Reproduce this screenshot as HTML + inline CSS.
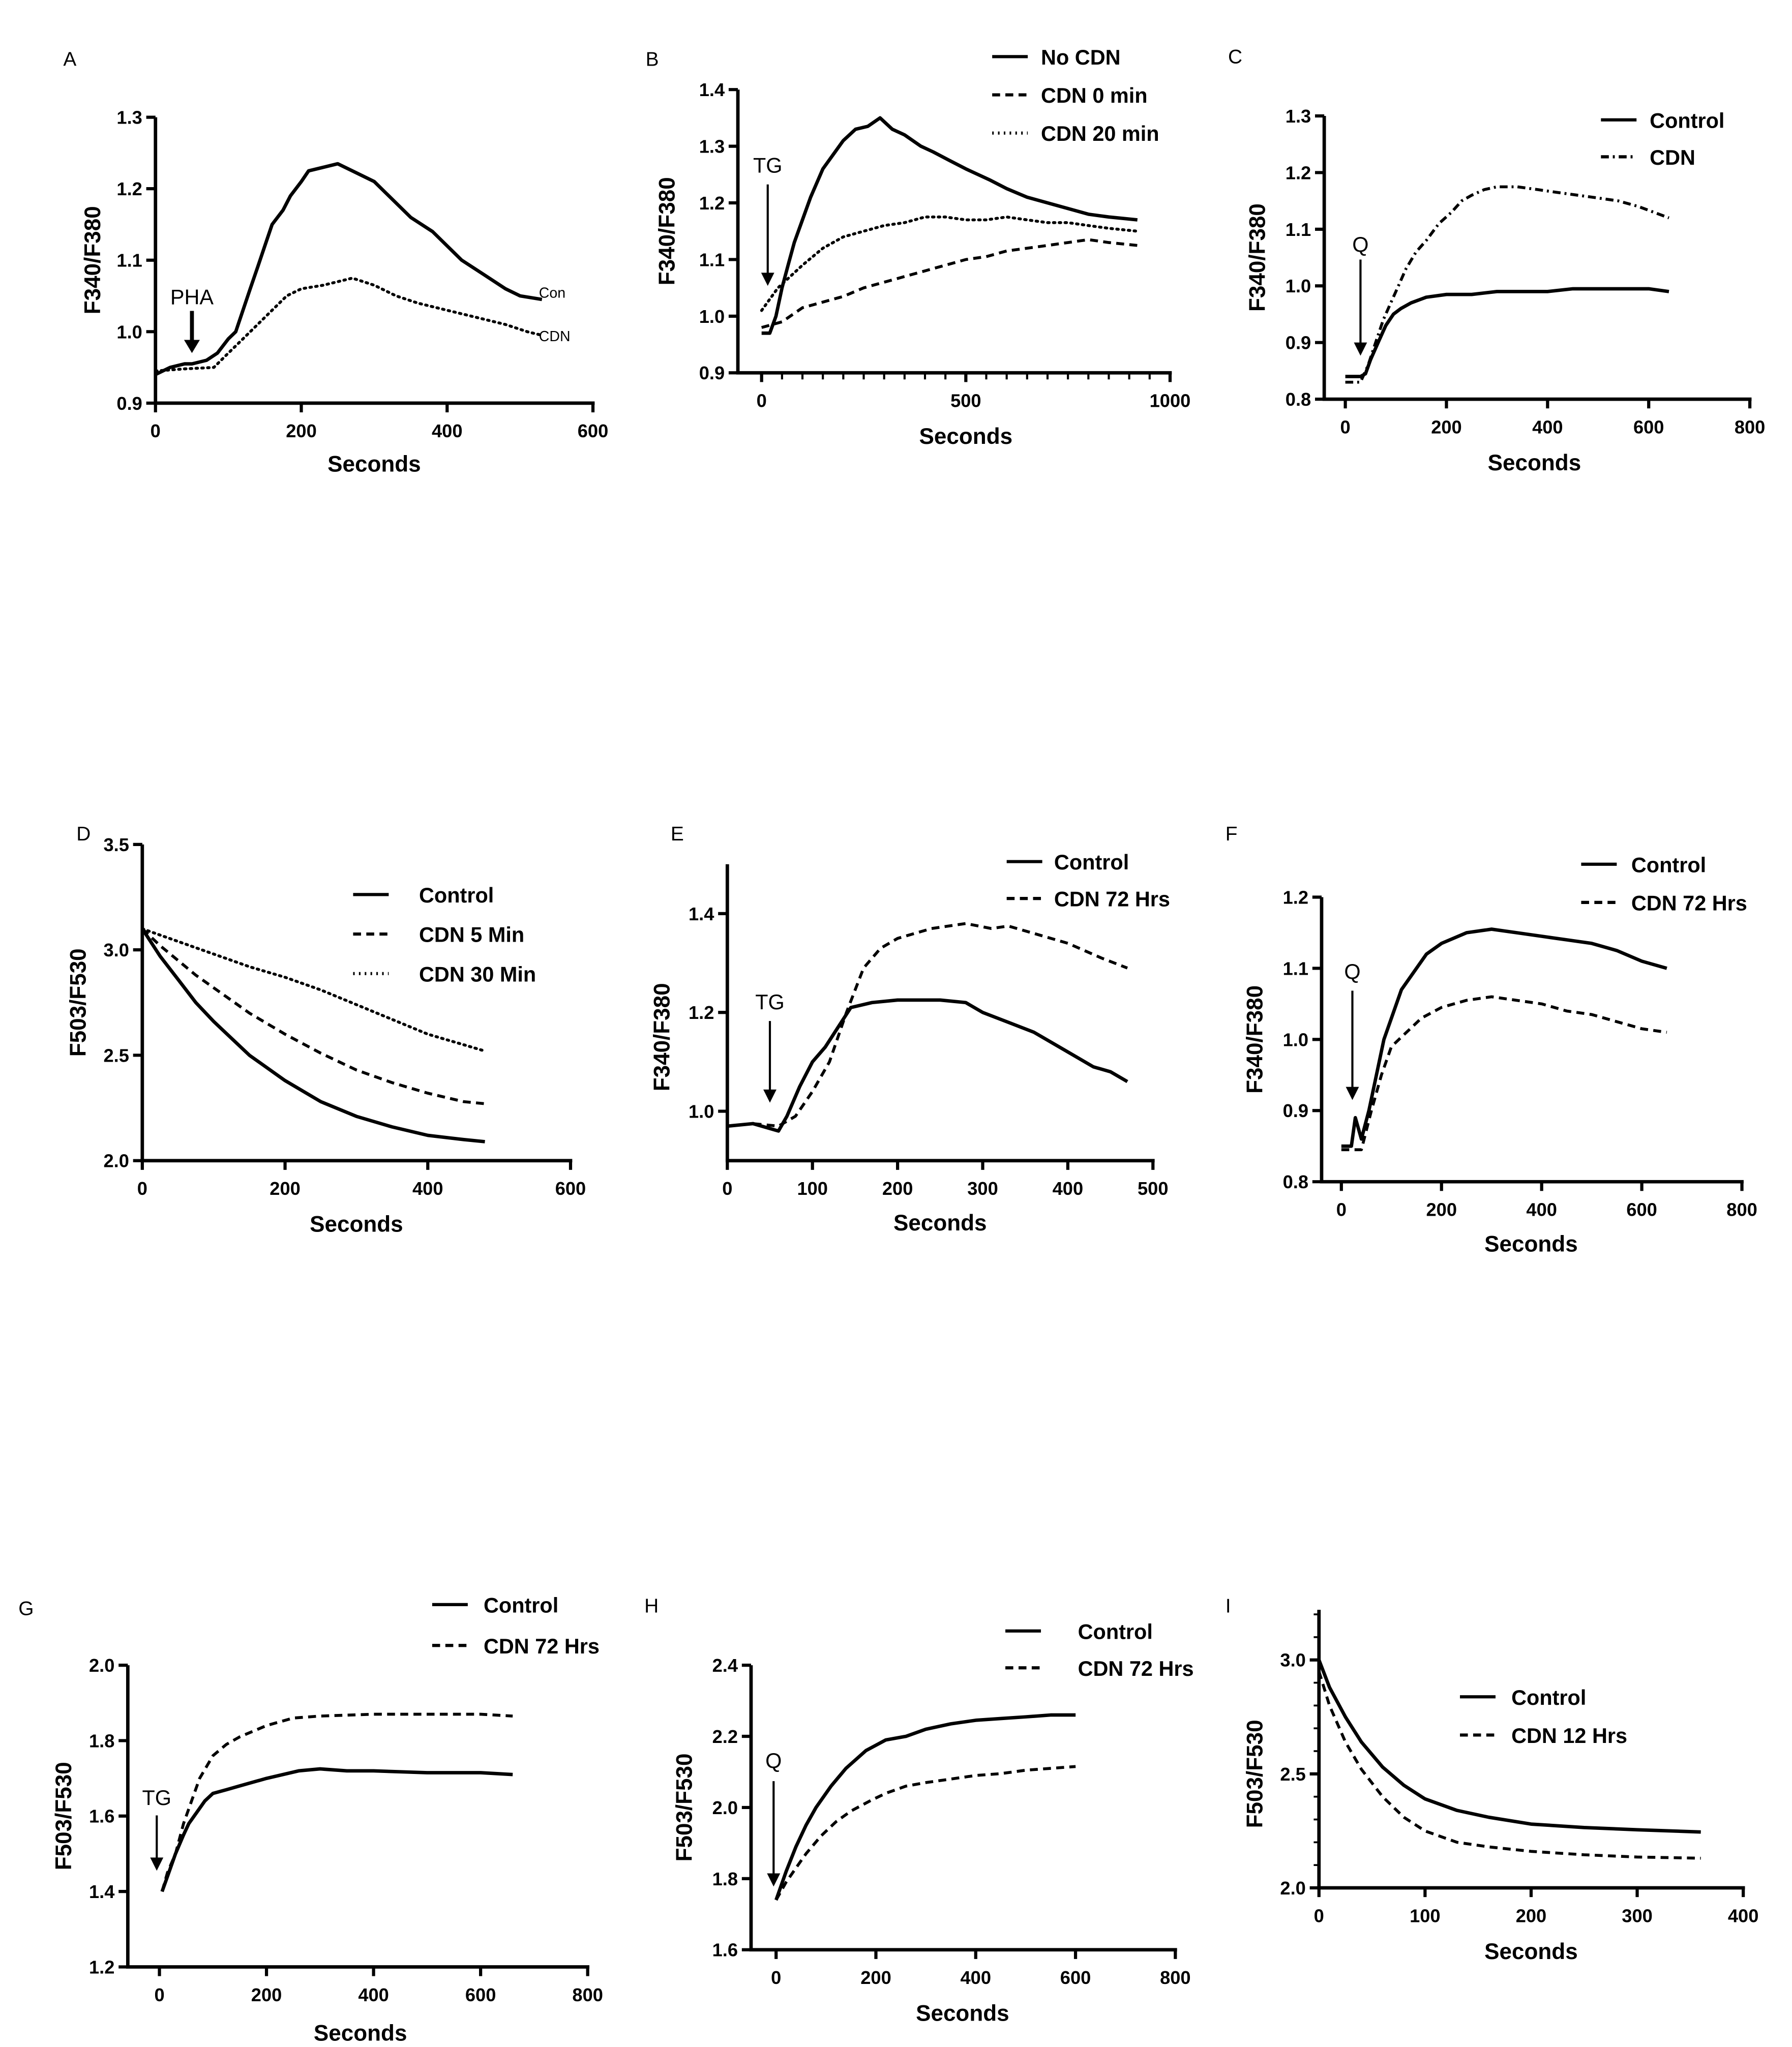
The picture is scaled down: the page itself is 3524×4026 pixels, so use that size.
<!DOCTYPE html>
<html><head><meta charset="utf-8">
<style>
html,body{margin:0;padding:0;background:#fff;}
svg{display:block;}
text{font-family:"Liberation Sans",Arial,sans-serif;fill:#000;}
</style></head>
<body>
<svg id="fig" xmlns="http://www.w3.org/2000/svg" width="3524" height="4026" viewBox="0 0 1360 1553.8" preserveAspectRatio="none"></svg>
<script>
// ---------- Data ----------
// Panel A
const aConT=[0,20,40,50,70,85,100,110,120,130,140,150,160,175,185,200,210,230,250,270,300,330,350,380,400,420,450,480,500,530];
const aConV=[0.94,0.95,0.955,0.955,0.96,0.97,0.99,1.0,1.03,1.06,1.09,1.12,1.15,1.17,1.19,1.21,1.225,1.23,1.235,1.225,1.21,1.18,1.16,1.14,1.12,1.10,1.08,1.06,1.05,1.045];
const aCdnT=[0,40,80,100,120,140,160,180,200,230,270,300,330,360,400,440,480,510,530];
const aCdnV=[0.945,0.948,0.95,0.97,0.99,1.01,1.03,1.05,1.06,1.065,1.075,1.065,1.05,1.04,1.03,1.02,1.01,1.0,0.995];
const aXTicks=[0,200,400,600];
const aYTicks=[0.9,1.0,1.1,1.2,1.3];
// Panel B
const bNoT=[0,20,35,50,65,80,100,120,150,180,200,230,260,290,320,350,390,420,460,500,560,600,650,700,750,800,850,920];
const bNoV=[0.97,0.97,1.0,1.05,1.09,1.13,1.17,1.21,1.26,1.29,1.31,1.33,1.335,1.35,1.33,1.32,1.30,1.29,1.275,1.26,1.24,1.225,1.21,1.2,1.19,1.18,1.175,1.17];
const b0T=[0,50,100,150,200,250,300,350,400,450,500,550,600,650,700,750,800,850,920];
const b0V=[0.98,0.99,1.015,1.025,1.035,1.05,1.06,1.07,1.08,1.09,1.1,1.105,1.115,1.12,1.125,1.13,1.135,1.13,1.125];
const b20T=[0,20,40,70,100,150,200,250,300,350,400,450,500,550,600,650,700,750,800,850,920];
const b20V=[1.01,1.03,1.05,1.07,1.09,1.12,1.14,1.15,1.16,1.165,1.175,1.175,1.17,1.17,1.175,1.17,1.165,1.165,1.16,1.155,1.15];
const bXTicks=[0,500,1000];
const bYTicks=[0.9,1.0,1.1,1.2,1.3,1.4];
// Panel C
const cCtlT=[0,30,40,50,65,80,95,110,130,160,200,250,300,350,400,450,500,550,600,640];
const cCtlV=[0.84,0.84,0.845,0.87,0.9,0.93,0.95,0.96,0.97,0.98,0.985,0.985,0.99,0.99,0.99,0.995,0.995,0.995,0.995,0.99];
const cCdnT=[0,30,45,60,75,90,105,120,140,160,185,210,230,250,275,300,340,380,420,460,500,540,580,610,640];
const cCdnV=[0.83,0.83,0.86,0.9,0.94,0.97,1.0,1.03,1.06,1.08,1.11,1.13,1.15,1.16,1.17,1.175,1.175,1.17,1.165,1.16,1.155,1.15,1.14,1.13,1.12];
const cXTicks=[0,200,400,600,800];
const cYTicks=[0.8,0.9,1.0,1.1,1.2,1.3];
// Panel D
const dCtlT=[0,25,50,75,100,150,200,250,300,350,400,450,480];
const dCtlV=[3.1,2.97,2.86,2.75,2.66,2.5,2.38,2.28,2.21,2.16,2.12,2.1,2.09];
const d5T=[0,25,50,75,100,150,200,250,300,350,400,450,480];
const d5V=[3.1,3.02,2.95,2.88,2.82,2.7,2.6,2.51,2.43,2.37,2.32,2.28,2.27];
const d30T=[0,50,100,150,200,250,300,350,400,450,480];
const d30V=[3.1,3.04,2.98,2.92,2.87,2.81,2.74,2.67,2.6,2.55,2.52];
const dXTicks=[0,200,400,600];
const dYTicks=[2.0,2.5,3.0,3.5];
// Panel E
const eCtlT=[0,30,60,70,85,100,115,130,145,170,200,250,280,300,330,360,400,430,450,470];
const eCtlV=[0.97,0.975,0.96,0.99,1.05,1.1,1.13,1.17,1.21,1.22,1.225,1.225,1.22,1.2,1.18,1.16,1.12,1.09,1.08,1.06];
const eCdnT=[0,30,60,80,100,120,140,160,180,200,240,280,310,330,360,400,440,470];
const eCdnV=[0.97,0.975,0.97,0.99,1.04,1.1,1.2,1.29,1.33,1.35,1.37,1.38,1.37,1.375,1.36,1.34,1.31,1.29];
const eXTicks=[0,100,200,300,400,500];
const eYTicks=[1.0,1.2,1.4];
// Panel F
const fCtlT=[0,20,28,40,55,70,85,100,120,140,170,200,250,300,350,400,450,500,550,600,650];
const fCtlV=[0.85,0.85,0.89,0.86,0.9,0.95,1.0,1.03,1.07,1.09,1.12,1.135,1.15,1.155,1.15,1.145,1.14,1.135,1.125,1.11,1.1];
const fCdnT=[0,40,60,80,100,130,160,200,250,300,350,400,450,500,550,600,650];
const fCdnV=[0.845,0.845,0.9,0.95,0.99,1.01,1.03,1.045,1.055,1.06,1.055,1.05,1.04,1.035,1.025,1.015,1.01];
const fXTicks=[0,200,400,600,800];
const fYTicks=[0.8,0.9,1.0,1.1,1.2];
// Panel G
const gCtlT=[5,15,30,45,55,70,85,100,125,150,200,260,300,350,400,500,600,660];
const gCtlV=[1.40,1.44,1.5,1.55,1.58,1.61,1.64,1.66,1.67,1.68,1.70,1.72,1.725,1.72,1.72,1.715,1.715,1.71];
const gCdnT=[5,15,30,45,60,75,100,125,150,200,250,300,400,500,600,660];
const gCdnV=[1.40,1.45,1.5,1.58,1.64,1.7,1.76,1.79,1.81,1.84,1.86,1.865,1.87,1.87,1.87,1.865];
const gXTicks=[0,200,400,600,800];
const gYTicks=[1.2,1.4,1.6,1.8,2.0];
// Panel H
const hCtlT=[0,20,40,60,80,110,140,180,220,260,300,350,400,450,500,550,600];
const hCtlV=[1.74,1.82,1.89,1.95,2.0,2.06,2.11,2.16,2.19,2.2,2.22,2.235,2.245,2.25,2.255,2.26,2.26];
const hCdnT=[0,20,40,60,90,120,150,190,220,260,300,350,400,450,500,550,600];
const hCdnV=[1.74,1.79,1.83,1.87,1.92,1.96,1.99,2.02,2.04,2.06,2.07,2.08,2.09,2.095,2.105,2.11,2.115];
const hXTicks=[0,200,400,600,800];
const hYTicks=[1.6,1.8,2.0,2.2,2.4];
// Panel I
const iCtlT=[0,10,25,40,60,80,100,130,160,200,250,300,360];
const iCtlV=[3.0,2.88,2.75,2.64,2.53,2.45,2.39,2.34,2.31,2.28,2.265,2.255,2.245];
const iCdnT=[0,10,25,40,60,80,100,130,160,200,250,300,360];
const iCdnV=[2.95,2.8,2.64,2.52,2.4,2.31,2.25,2.2,2.18,2.16,2.145,2.135,2.13];
const iXTicks=[0,100,200,300,400];
const iYTicks=[2.0,2.5,3.0];

// ---------- Helpers ----------
const NS="http://www.w3.org/2000/svg";
const svg=document.getElementById('fig');
function mk(tag,attrs,parent){const e=document.createElementNS(NS,tag);for(const k in attrs)e.setAttribute(k,attrs[k]);(parent||svg).appendChild(e);return e;}
function txt(s,x,y,size,weight,anchor,parent){const t=mk('text',{x:x,y:y,'font-size':size,'font-weight':weight,'text-anchor':anchor||'middle'},parent);t.textContent=s;return t;}
const dashes={solid:null,dash:'6 4',dot:'1.2 3.2',dashdot:'6 3 1.5 3'};

function panel(p){
  const g=mk('g',{});
  
  
  const sx=v=>p.px0+(v-p.xmin)/(p.xmax-p.xmin)*(p.px1-p.px0);
  const sy=v=>p.py0+(v-p.ymin)/(p.ymax-p.ymin)*(p.py1-p.py0);
  const lab=txt(p.id,p.lx,p.ly,15,'normal','start',g);
  
  
  const yTop=sy(Math.max(p.ytop,p.yticks[p.yticks.length-1]));
  const yTickTop=sy(p.yticks[p.yticks.length-1]);
  const xRight=sx(p.xticks[p.xticks.length-1]);
  const ya=mk('line',{x1:p.yax,y1:p.py0,x2:p.yax,y2:yTop,stroke:'#000','stroke-width':2.6},g);
  
  
  const xa=mk('line',{x1:p.yax-1.3,y1:p.py0,x2:xRight+1.3,y2:p.py0,stroke:'#000','stroke-width':2.6},g);
  
  
  p.xticks.forEach(v=>{
    const x=sx(v);
    const tk=mk('line',{x1:x,y1:p.py0,x2:x,y2:p.py0+7,stroke:'#000','stroke-width':2.4},g);
    
    
    const tl=txt(String(v),x,p.py0+26,14,'bold','middle',g);
    
    
  });
  if(p.xminor){for(let v=p.xminor;v<p.xticks[p.xticks.length-1];v+=p.xminor){
    const x=sx(v);
    const mt=mk('line',{x1:x,y1:p.py0,x2:x,y2:p.py0+5,stroke:'#000','stroke-width':1.6},g);
    
    
  }}
  if(p.yminor){for(let v=p.yticks[0]+p.yminor;v<p.ytop;v+=p.yminor){
    const y=sy(v);
    const mt=mk('line',{x1:p.yax,y1:y,x2:p.yax-4,y2:y,stroke:'#000','stroke-width':1.4},g);
    
    
  }}
  p.yticks.forEach(v=>{
    const y=sy(v);
    const tk=mk('line',{x1:p.yax,y1:y,x2:p.yax-7,y2:y,stroke:'#000','stroke-width':2.4},g);
    
    
    const tl=txt(v.toFixed(1),p.yax-10,y+5,14,'bold','end',g);
    
    
  });
  const xt=txt('Seconds',(p.px0+xRight)/2+p.xtOff,p.py0+p.xtDy,17,'bold','middle',g);
  
  
  const cy=(p.py0+yTickTop)/2;
  const yt=txt(p.ytitle,0,0,17,'bold','middle',g);
  yt.setAttribute('transform','translate('+p.ytx+','+cy+') rotate(-90)');
  
  
  p.series.forEach(s=>{
    const pts=s.t.map((t,i)=>sx(t).toFixed(1)+','+sy(s.v[i]).toFixed(1)).join(' ');
    const pl=mk('polyline',{points:pts,fill:'none',stroke:'#000','stroke-width':s.style==='solid'?2.6:2.2,'stroke-linejoin':'round','stroke-linecap':s.style==='dot'?'round':'butt'},g);
    if(dashes[s.style])pl.setAttribute('stroke-dasharray',dashes[s.style]);
    
    
  });
  (p.legend||[]).forEach((L,i)=>{
    const y=p.legY+i*p.legDy;
    const ll=mk('line',{x1:p.legX,y1:y,x2:p.legX+27,y2:y,stroke:'#000','stroke-width':2.4},g);
    if(dashes[L.style])ll.setAttribute('stroke-dasharray',dashes[L.style]);
    
    
    const lt=txt(L.label,p.legX+p.legTx,y+6,16,'bold','start',g);
    
    
  });
  (p.inline||[]).forEach(L=>{
    const lt=txt(L.label,L.x,L.y,11,'normal','start',g);
    
    
  });
  if(p.arrow){
    const a=p.arrow, x=sx(a.t);
    const at=txt(a.label,x+(a.dx||0),a.ty,16,a.bold?'bold':'normal','middle',g);
    
    
    const al=mk('line',{x1:x,y1:a.y1,x2:x,y2:a.y2-8,stroke:'#000','stroke-width':a.w||1.6},g);
    
    
    const hw=a.hw||5;
    const ah=mk('polygon',{points:(x-hw)+','+(a.y2-10)+' '+(x+hw)+','+(a.y2-10)+' '+x+','+a.y2,fill:'#000'},g);
    
    
  }
}

panel({id:'A',lx:48,ly:50,yax:118,px0:118,px1:450,xmin:0,xmax:600,py0:306,py1:89,ymin:0.9,ymax:1.3,ytop:1.3,
  xticks:aXTicks,yticks:aYTicks,ytitle:'F340/F380',ytx:76,xtOff:0,xtDy:52,
  series:[{t:aConT,v:aConV,style:'solid',name:'con-line'},{t:aCdnT,v:aCdnV,style:'dot',name:'cdn-line'}],
  inline:[{label:'Con',x:409,y:226},{label:'CDN',x:409,y:259}],
  arrow:{t:50,label:'PHA',ty:231,y1:236,y2:268,w:3,hw:6,bold:false}});

panel({id:'B',lx:490,ly:50,yax:560,px0:578,px1:888,xmin:0,xmax:1000,py0:283,py1:68,ymin:0.9,ymax:1.4,ytop:1.4,
  xticks:bXTicks,yticks:bYTicks,xminor:50,ytitle:'F340/F380',ytx:512,xtOff:0,xtDy:54,
  series:[{t:bNoT,v:bNoV,style:'solid',name:'no-cdn-line'},{t:b0T,v:b0V,style:'dash',name:'cdn-0-min-line'},{t:b20T,v:b20V,style:'dot',name:'cdn-20-min-line'}],
  legend:[{label:'No  CDN',style:'solid'},{label:'CDN 0 min',style:'dash'},{label:'CDN 20 min',style:'dot'}],legX:753,legY:43,legDy:29,legTx:37,
  arrow:{t:15,label:'TG',ty:131,y1:140,y2:217}});

panel({id:'C',lx:932,ly:48,yax:1005,px0:1021,px1:1328,xmin:0,xmax:800,py0:303,py1:88,ymin:0.8,ymax:1.3,ytop:1.3,
  xticks:cXTicks,yticks:cYTicks,ytitle:'F340/F380',ytx:960,xtOff:-10,xtDy:54,
  series:[{t:cCtlT,v:cCtlV,style:'solid',name:'control-line'},{t:cCdnT,v:cCdnV,style:'dashdot',name:'cdn-line'}],
  legend:[{label:'Control',style:'solid'},{label:'CDN',style:'dashdot'}],legX:1215,legY:91,legDy:28,legTx:37,
  arrow:{t:30,label:'Q',ty:191,y1:197,y2:270}});

panel({id:'D',lx:58,ly:638,yax:108,px0:108,px1:433,xmin:0,xmax:600,py0:881,py1:641,ymin:2.0,ymax:3.5,ytop:3.5,
  xticks:dXTicks,yticks:dYTicks,ytitle:'F503/F530',ytx:65,xtOff:0,xtDy:54,
  series:[{t:dCtlT,v:dCtlV,style:'solid',name:'control-line'},{t:d5T,v:d5V,style:'dash',name:'cdn-5-min-line'},{t:d30T,v:d30V,style:'dot',name:'cdn-30-min-line'}],
  legend:[{label:'Control',style:'solid'},{label:'CDN 5 Min',style:'dash'},{label:'CDN 30 Min',style:'dot'}],legX:268,legY:679,legDy:30,legTx:50});

panel({id:'E',lx:509,ly:638,yax:552,px0:552,px1:875,xmin:0,xmax:500,py0:881,py1:656,ymin:0.9,ymax:1.5,ytop:1.5,
  xticks:eXTicks,yticks:eYTicks,ytitle:'F340/F380',ytx:508,xtOff:0,xtDy:53,
  series:[{t:eCtlT,v:eCtlV,style:'solid',name:'control-line'},{t:eCdnT,v:eCdnV,style:'dash',name:'cdn-72-hrs-line'}],
  legend:[{label:'Control',style:'solid'},{label:'CDN 72 Hrs',style:'dash'}],legX:764,legY:654,legDy:28,legTx:36,
  arrow:{t:50,label:'TG',ty:766,y1:775,y2:837}});

panel({id:'F',lx:930,ly:638,yax:1003,px0:1018,px1:1322,xmin:0,xmax:800,py0:897,py1:681,ymin:0.8,ymax:1.2,ytop:1.2,
  xticks:fXTicks,yticks:fYTicks,ytitle:'F340/F380',ytx:958,xtOff:-8,xtDy:53,
  series:[{t:fCtlT,v:fCtlV,style:'solid',name:'control-line'},{t:fCdnT,v:fCdnV,style:'dash',name:'cdn-72-hrs-line'}],
  legend:[{label:'Control',style:'solid'},{label:'CDN 72  Hrs',style:'dash'}],legX:1200,legY:656,legDy:29,legTx:38,
  arrow:{t:22,label:'Q',ty:743,y1:752,y2:835}});

panel({id:'G',lx:14,ly:1226,yax:97,px0:121,px1:446,xmin:0,xmax:800,py0:1493,py1:1264,ymin:1.2,ymax:2.0,ytop:2.0,
  xticks:gXTicks,yticks:gYTicks,ytitle:'F503/F530',ytx:54,xtOff:-10,xtDy:56,
  series:[{t:gCtlT,v:gCtlV,style:'solid',name:'control-line'},{t:gCdnT,v:gCdnV,style:'dash',name:'cdn-72-hrs-line'}],
  legend:[{label:'Control',style:'solid'},{label:'CDN 72 Hrs',style:'dash'}],legX:328,legY:1218,legDy:31,legTx:39,
  arrow:{t:-5,label:'TG',ty:1370,y1:1378,y2:1420}});

panel({id:'H',lx:489,ly:1224,yax:570,px0:589,px1:892,xmin:0,xmax:800,py0:1480,py1:1264,ymin:1.6,ymax:2.4,ytop:2.4,
  xticks:hXTicks,yticks:hYTicks,ytitle:'F503/F530',ytx:525,xtOff:-10,xtDy:54,
  series:[{t:hCtlT,v:hCtlV,style:'solid',name:'control-line'},{t:hCdnT,v:hCdnV,style:'dash',name:'cdn-72-hrs-line'}],
  legend:[{label:'Control',style:'solid'},{label:'CDN 72 Hrs',style:'dash'}],legX:763,legY:1238,legDy:28,legTx:55,
  arrow:{t:-5,label:'Q',ty:1342,y1:1352,y2:1432}});

panel({id:'I',lx:930,ly:1224,yax:1001,px0:1001,px1:1323,xmin:0,xmax:400,py0:1433,py1:1260,ymin:2.0,ymax:3.0,ytop:3.22,yminor:0.1,
  xticks:iXTicks,yticks:iYTicks,ytitle:'F503/F530',ytx:958,xtOff:0,xtDy:54,
  series:[{t:iCtlT,v:iCtlV,style:'solid',name:'control-line'},{t:iCdnT,v:iCdnV,style:'dash',name:'cdn-12-hrs-line'}],
  legend:[{label:'Control',style:'solid'},{label:'CDN 12 Hrs',style:'dash'}],legX:1108,legY:1288,legDy:29,legTx:39});
</script>
</body></html>
